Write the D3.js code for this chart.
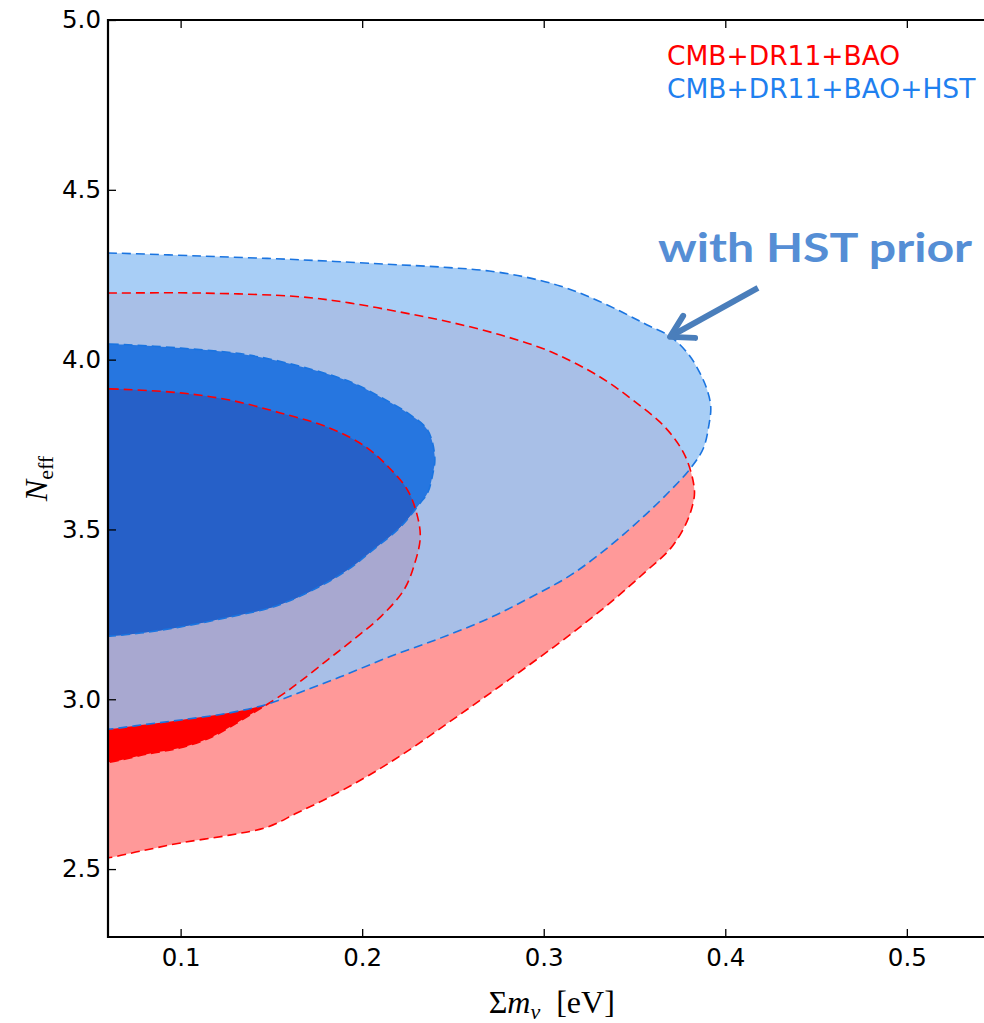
<!DOCTYPE html>
<html>
<head>
<meta charset="utf-8">
<script src="https://cdn.jsdelivr.net/npm/d3@7"></script>
<style>
  body { margin: 0; background: #fff; }
  svg { display: block; }
</style>
</head>
<body>
<svg id="chart" width="984" height="1023"></svg>
<script>
// contour boundaries, [sum m_nu (eV), N_eff]
const red95 = [[0.050,4.196],[0.060,4.196],[0.111,4.196],[0.166,4.185],[0.193,4.167],[0.221,4.140],[0.248,4.111],[0.276,4.073],[0.304,4.023],[0.331,3.949],[0.349,3.881],[0.367,3.800],[0.378,3.715],[0.383,3.616],[0.382,3.572],[0.378,3.513],[0.370,3.445],[0.356,3.375],[0.337,3.286],[0.315,3.192],[0.292,3.101],[0.270,3.016],[0.248,2.933],[0.226,2.851],[0.204,2.777],[0.182,2.712],[0.164,2.665],[0.148,2.624],[0.127,2.600],[0.100,2.577],[0.078,2.553],[0.060,2.533],[0.050,2.530]];
const red68 = [[0.050,3.914],[0.061,3.914],[0.100,3.902],[0.127,3.881],[0.155,3.843],[0.182,3.799],[0.202,3.743],[0.215,3.681],[0.225,3.616],[0.230,3.548],[0.232,3.478],[0.229,3.401],[0.223,3.322],[0.210,3.242],[0.195,3.175],[0.181,3.116],[0.167,3.057],[0.158,3.021],[0.148,2.986],[0.141,2.963],[0.130,2.927],[0.116,2.886],[0.100,2.857],[0.082,2.839],[0.061,2.815],[0.050,2.812]];
const blue95 = [[0.050,4.314],[0.060,4.314],[0.111,4.305],[0.166,4.294],[0.221,4.279],[0.248,4.271],[0.270,4.261],[0.290,4.243],[0.309,4.217],[0.325,4.185],[0.342,4.143],[0.357,4.102],[0.370,4.067],[0.380,4.014],[0.386,3.961],[0.390,3.911],[0.392,3.861],[0.391,3.808],[0.388,3.740],[0.381,3.681],[0.370,3.616],[0.356,3.543],[0.337,3.454],[0.315,3.366],[0.292,3.298],[0.270,3.239],[0.243,3.180],[0.215,3.125],[0.188,3.066],[0.166,3.021],[0.148,2.986],[0.127,2.960],[0.100,2.939],[0.078,2.924],[0.060,2.912],[0.050,2.912]];
const blue68 = [[0.050,4.046],[0.061,4.046],[0.100,4.034],[0.137,4.014],[0.173,3.970],[0.195,3.931],[0.210,3.890],[0.225,3.843],[0.236,3.793],[0.240,3.713],[0.239,3.666],[0.236,3.607],[0.232,3.578],[0.221,3.507],[0.206,3.440],[0.192,3.381],[0.173,3.322],[0.151,3.272],[0.127,3.242],[0.100,3.213],[0.078,3.195],[0.061,3.186],[0.050,3.186]];

const xTicks = [0.1, 0.2, 0.3, 0.4, 0.5];
const yTicks = [2.5, 3.0, 3.5, 4.0, 4.5, 5.0];
const legendLabels = ["CMB+DR11+BAO", "CMB+DR11+BAO+HST"];
const legendColors = ["#ff0000", "#1f80ef"];

const plotLeft = 108, plotTop = 20, plotRight = 984, plotBottom = 937;

const svg = d3.select("#chart");

const x = d3.scaleLinear().domain([0.06, 0.5425]).range([plotLeft, plotRight]);
const y = d3.scaleLinear().domain([2.3, 5.0]).range([plotBottom, plotTop]);

const defs = svg.append("defs");
defs.append("clipPath").attr("id", "plot")
  .append("rect")
  .attr("x", plotLeft).attr("y", plotTop)
  .attr("width", plotRight - plotLeft).attr("height", plotBottom - plotTop);

const line = d3.line()
  .x(d => x(d[0]))
  .y(d => y(d[1]))
  .curve(d3.curveCatmullRomClosed.alpha(0.5));

defs.append("clipPath").attr("id", "inner68")
  .append("path").attr("d", line(blue68));

const g = svg.append("g").attr("clip-path", "url(#plot)");

// fills
g.append("path").attr("d", line(red95)).attr("fill", "#ff9999");
g.append("path").attr("d", line(red68)).attr("fill", "#ff0000");
g.append("path").attr("d", line(blue95)).attr("fill", "rgb(153,198,245)").attr("fill-opacity", 0.85);
g.append("path").attr("d", line(blue68)).attr("fill", "#2676e0");
g.append("path").attr("d", line(red68)).attr("fill", "#2660c8").attr("clip-path", "url(#inner68)");

// dashed edges
const edges = [
  { data: red95, color: "#ff0000" },
  { data: red68, color: "#ff0000" },
  { data: blue95, color: "#1a74e0" },
  { data: blue68, color: "#1a74e0" }
];
edges.forEach(e => {
  g.append("path")
    .attr("d", line(e.data))
    .attr("fill", "none")
    .attr("stroke", e.color)
    .attr("stroke-width", 1.6)
    .attr("stroke-dasharray", "9,5");
});

// axes
const fmt = d3.format(".1f");

svg.append("g")
  .attr("transform", "translate(0," + plotBottom + ")")
  .call(d3.axisBottom(x).tickValues(xTicks).tickFormat(fmt).tickSize(-8).tickPadding(12));

svg.append("g")
  .attr("transform", "translate(0," + plotTop + ")")
  .call(d3.axisTop(x).tickValues(xTicks).tickFormat("").tickSize(-8));

svg.append("g")
  .attr("transform", "translate(" + plotLeft + ",0)")
  .call(d3.axisLeft(y).tickValues(yTicks).tickFormat(fmt).tickSize(-8).tickPadding(7));

svg.selectAll(".domain").remove();
svg.selectAll(".tick line").attr("stroke", "#000").attr("stroke-width", 1.3);
svg.selectAll(".tick text")
  .attr("fill", "#000")
  .style("font-family", "DejaVu Sans")
  .style("font-size", "24.5px");

// spines
svg.append("path")
  .attr("d", `M${plotRight},${plotTop}H${plotLeft}V${plotBottom}H${plotRight}`)
  .attr("fill", "none")
  .attr("stroke", "#000")
  .attr("stroke-width", 2.2);

// axis labels
const xl = svg.append("text")
  .attr("x", x(0.3) + 8)
  .attr("y", 1013)
  .attr("text-anchor", "middle")
  .style("font-family", "Liberation Serif")
  .style("font-size", "32px")
  .attr("fill", "#000");
xl.append("tspan").text("Σ");
xl.append("tspan").style("font-style", "italic").text("m");
xl.append("tspan").style("font-style", "italic").style("font-size", "22px").attr("dy", 6).text("ν");
xl.append("tspan").attr("dy", -6).text("\u2002[eV]");

const yl = svg.append("text")
  .attr("transform", `translate(47,${y(3.65)}) rotate(-90)`)
  .attr("text-anchor", "middle")
  .style("font-family", "Liberation Serif")
  .style("font-size", "32px")
  .attr("fill", "#000");
yl.append("tspan").style("font-style", "italic").text("N");
yl.append("tspan").style("font-size", "22px").attr("dy", 6).text("eff");

// legend
svg.selectAll(".legend")
  .data(legendLabels)
  .enter()
  .append("text")
  .attr("class", "legend")
  .attr("x", 667)
  .attr("y", (d, i) => 65 + i * 33)
  .attr("fill", (d, i) => legendColors[i])
  .style("font-family", "DejaVu Sans")
  .style("font-size", "26.5px")
  .text(d => d);

// annotation
svg.append("text")
  .attr("x", x(0.363))
  .attr("y", y(4.288))
  .attr("fill", "#558ed5")
  .attr("textLength", 314)
  .attr("lengthAdjust", "spacingAndGlyphs")
  .style("font-family", "Lato")
  .style("font-weight", "700")
  .style("font-size", "40px")
  .text("with HST prior");

const tip = [x(0.3696), y(4.067)];
const tail = [x(0.418), y(4.211)];
svg.append("line")
  .attr("x1", tail[0]).attr("y1", tail[1])
  .attr("x2", tip[0] + 3).attr("y2", tip[1] - 2)
  .attr("stroke", "#4a7ebb")
  .attr("stroke-width", 6);
svg.append("path")
  .attr("d", `M${tip[0] + 13},${tip[1] - 21}L${tip[0]},${tip[1]}L${tip[0] + 25},${tip[1] + 1}`)
  .attr("fill", "none")
  .attr("stroke", "#4a7ebb")
  .attr("stroke-width", 6)
  .attr("stroke-linecap", "round")
  .attr("stroke-linejoin", "round");
</script>
</body>
</html>
